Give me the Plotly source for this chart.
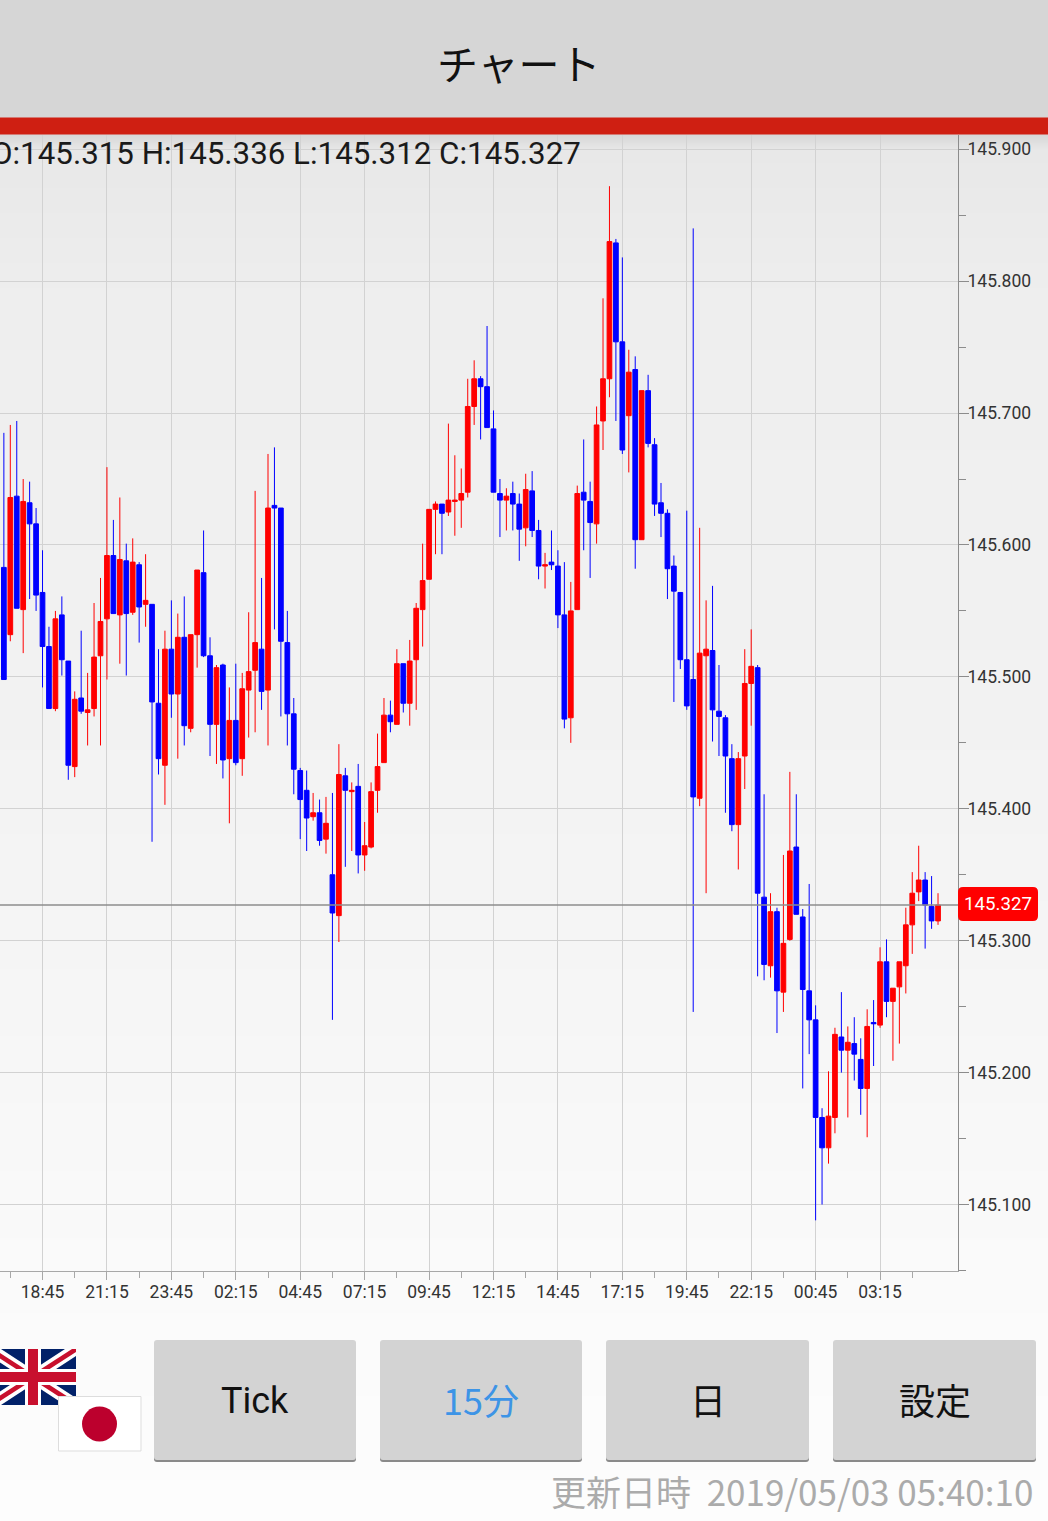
import plotly.graph_objects as go

# 15 minute USD/JPY style bars
open_px = [
145.583,145.532,145.637,145.551,145.632,145.616,145.564,145.523,145.476,145.547,
145.512,145.432,145.484,145.473,145.476,145.516,145.544,145.592,145.547,145.588,
145.549,145.585,145.555,145.555,145.480,145.433,145.521,145.487,145.530,145.461,
145.532,145.579,145.516,145.464,145.509,145.438,145.467,145.438,145.490,145.505,
145.521,145.490,145.630,145.628,145.526,145.472,145.429,145.414,145.394,145.397,
145.377,145.350,145.319,145.425,145.413,145.417,145.365,145.371,145.414,145.435,
145.471,145.464,145.510,145.480,145.513,145.551,145.574,145.627,145.631,145.625,
145.633,145.634,145.640,145.705,145.726,145.720,145.688,145.639,145.634,145.639,
145.631,145.613,145.641,145.611,145.584,145.587,145.584,145.547,145.469,145.551,
145.640,145.633,145.616,145.694,145.726,145.829,145.754,145.698,145.733,145.604,
145.717,145.676,145.632,145.624,145.584,145.564,145.513,145.498,145.408,145.516,
145.520,145.474,145.469,145.438,145.388,145.440,145.495,145.507,145.333,145.281,
145.322,145.261,145.301,145.371,145.318,145.262,145.240,145.166,145.143,145.166,
145.227,145.217,145.222,145.210,145.188,145.238,145.236,145.284,145.254,145.265,
145.281,145.312,145.337,145.346,145.326,145.315]
high_px = [
145.685,145.691,145.694,145.650,145.648,145.628,145.596,145.538,145.550,145.561,
145.512,145.489,145.535,145.503,145.556,145.575,145.659,145.619,145.636,145.601,
145.605,145.587,145.593,145.555,145.521,145.535,145.558,145.548,145.561,145.532,
145.581,145.611,145.530,145.509,145.510,145.492,145.510,145.503,145.549,145.641,
145.575,145.669,145.674,145.628,145.550,145.484,145.431,145.429,145.412,145.407,
145.409,145.412,145.449,145.431,145.420,145.434,145.390,145.420,145.457,145.484,
145.482,145.521,145.510,145.528,145.556,145.601,145.627,145.633,145.631,145.692,
145.668,145.658,145.726,145.740,145.728,145.766,145.702,145.650,145.643,145.648,
145.639,145.654,145.656,145.619,145.594,145.611,145.596,145.587,145.572,145.645,
145.680,145.648,145.705,145.787,145.872,145.832,145.818,145.748,145.743,145.717,
145.729,145.681,145.647,145.627,145.592,145.564,145.626,145.840,145.613,145.558,
145.569,145.509,145.471,145.449,145.443,145.521,145.536,145.509,145.411,145.336,
145.325,145.365,145.428,145.411,145.324,145.343,145.251,145.173,145.201,145.234,
145.261,145.235,145.242,145.226,145.248,145.255,145.295,145.301,145.264,145.284,
145.325,145.352,145.372,145.352,145.349,145.336]
low_px = [
145.498,145.527,145.552,145.518,145.559,145.550,145.492,145.476,145.474,145.501,
145.422,145.424,145.472,145.448,145.470,145.448,145.498,145.548,145.510,145.501,
145.547,145.526,145.538,145.375,145.426,145.403,145.469,145.438,145.448,145.458,
145.507,145.515,145.440,145.434,145.423,145.389,145.433,145.425,145.454,145.458,
145.475,145.448,145.536,145.470,145.448,145.411,145.377,145.368,145.391,145.372,
145.366,145.240,145.299,145.356,145.368,145.351,145.353,145.370,145.397,145.435,
145.458,145.464,145.473,145.463,145.475,145.523,145.574,145.593,145.593,145.622,
145.607,145.613,145.636,145.691,145.680,145.689,145.640,145.606,145.611,145.611,
145.588,145.599,145.606,145.574,145.567,145.581,145.537,145.461,145.450,145.551,
145.596,145.575,145.601,145.672,145.712,145.694,145.669,145.655,145.582,145.604,
145.674,145.622,145.606,145.559,145.481,145.506,145.475,145.246,145.402,145.336,
145.451,145.440,145.397,145.383,145.354,145.415,145.463,145.273,145.270,145.272,
145.230,145.246,145.300,145.320,145.188,145.214,145.088,145.100,145.131,145.154,
145.200,145.166,145.194,145.168,145.151,145.205,145.234,145.242,145.209,145.222,
145.260,145.290,145.330,145.294,145.309,145.312]
close_px = [
145.498,145.636,145.552,145.633,145.616,145.562,145.523,145.476,145.544,145.513,
145.433,145.483,145.474,145.475,145.515,145.542,145.592,145.548,145.589,145.548,
145.587,145.553,145.558,145.481,145.438,145.521,145.487,145.530,145.463,145.532,
145.581,145.516,145.464,145.507,145.437,145.467,145.435,145.491,145.504,145.526,
145.489,145.628,145.628,145.527,145.472,145.430,145.407,145.393,145.397,145.376,
145.389,145.321,145.426,145.414,145.414,145.365,145.372,145.413,145.432,145.471,
145.466,145.510,145.480,145.512,145.552,145.573,145.627,145.631,145.624,145.634,
145.634,145.639,145.705,145.726,145.720,145.689,145.640,145.634,145.637,145.631,
145.612,145.642,145.611,145.584,145.585,145.585,145.547,145.468,145.550,145.639,
145.634,145.617,145.691,145.726,145.830,145.754,145.672,145.731,145.604,145.717,
145.677,145.631,145.624,145.582,145.565,145.513,145.478,145.409,145.518,145.521,
145.475,145.470,145.440,145.388,145.438,145.495,145.508,145.336,145.282,145.322,
145.262,145.298,145.368,145.320,145.263,145.240,145.166,145.143,145.167,145.229,
145.217,145.223,145.214,145.188,145.235,145.237,145.284,145.254,145.264,145.284,
145.312,145.336,145.346,145.327,145.315,145.327]

bar_no = list(range(len(open_px)))
time_ticks = [6, 16, 26, 36, 46, 56, 66, 76, 86, 96, 106, 116, 126, 136]
time_labels = ["18:45", "21:15", "23:45", "02:15", "04:45", "07:15", "09:45",
               "12:15", "14:45", "17:15", "19:45", "22:15", "00:45", "03:15"]
half_ticks = [1, 11, 21, 31, 41, 51, 61, 71, 81, 91, 101, 111, 121, 131, 141]
price_ticks = [145.1, 145.2, 145.3, 145.4, 145.5, 145.6, 145.7, 145.8, 145.9]
price_labels = ["145.100", "145.200", "145.300", "145.400", "145.500",
                "145.600", "145.700", "145.800", "145.900"]
last_price = 145.327

# page background, top to bottom
bg_y = [0, 117, 135, 150, 300, 800, 1271, 1521]
bg_grey = [214, 214, 216, 232, 238, 243, 250, 253]

LATIN = "Roboto, 'Noto Sans CJK JP', sans-serif"
CJK = "'Noto Sans CJK JP', Roboto, sans-serif"
W, H = 1048, 1521
AX_RIGHT, AX_TOP, AX_BOTTOM = 958, 135, 1271

fig = go.Figure()

fig.add_trace(go.Heatmap(x=[0, W], y=bg_y, z=[[g, g] for g in bg_grey],
                         zmin=0, zmax=255, zsmooth="best", showscale=False,
                         colorscale=[[0, "rgb(0,0,0)"], [1, "rgb(255,255,255)"]],
                         hoverinfo="skip", xaxis="x", yaxis="y"))

fig.add_trace(go.Candlestick(x=bar_no, open=open_px, high=high_px, low=low_px, close=close_px,
                             increasing=dict(line=dict(color="#ff0000", width=1), fillcolor="#ff0000"),
                             decreasing=dict(line=dict(color="#0000ff", width=1), fillcolor="#0000ff"),
                             whiskerwidth=0, xaxis="x2", yaxis="y2", showlegend=False))


def rect(x0, y0, x1, y1, fill, line=None):
    fig.add_shape(type="rect", xref="x", yref="y", x0=x0, y0=y0, x1=x1, y1=y1,
                  fillcolor=fill, line=dict(color=line or fill, width=1 if line else 0), layer="above")


def poly(points, fill):
    d = "M" + " L".join(f"{a},{b}" for a, b in points) + " Z"
    fig.add_shape(type="path", xref="x", yref="y", path=d, fillcolor=fill, line_width=0, layer="above")


def rounded(x0, y0, x1, y1, r, fill):
    d = (f"M{x0+r},{y0} L{x1-r},{y0} Q{x1},{y0} {x1},{y0+r} L{x1},{y1-r} Q{x1},{y1} {x1-r},{y1} "
         f"L{x0+r},{y1} Q{x0},{y1} {x0},{y1-r} L{x0},{y0+r} Q{x0},{y0} {x0+r},{y0} Z")
    fig.add_shape(type="path", xref="x", yref="y", path=d, fillcolor=fill, line_width=0, layer="above")


def label(x, y, text, size, color, font=LATIN, anchor="center", xshift=0):
    fig.add_annotation(xref="x", yref="y", x=x, y=y, text=text, showarrow=False, xanchor=anchor,
                       yanchor="middle", xshift=xshift, font=dict(family=font, size=size, color=color))


# title bar
rect(0, 117.5, W, 134.5, "#cf1f12")
label(519, 62, "チャート", 41, "#111111", CJK)

# last price line and tag
fig.add_shape(type="line", xref="x2", yref="y2", x0=-1, x1=148.1, y0=last_price, y1=last_price,
              line=dict(color="#8c8c8c", width=1.5), layer="above")
rounded(958, 887, 1038, 921, 5, "#ff0000")
label(998, 904, f"{last_price:.3f}", 18.7, "#ffffff")

label(0, 153, "O:145.315 H:145.336 L:145.312 C:145.327", 31.3, "#1a1a1a", anchor="left", xshift=-11)

# flags
rect(0, 1349, 76, 1405, "#012169")
for a, b, c, d in [(-10, 1349, 76, 1405), (-10, 1405, 76, 1349)]:
    s = 1 if d > b else -1
    poly([(a, b), (a + 11, b), (c, d - 7 * s), (c, d), (c - 11, d), (a, b + 7 * s)], "#ffffff")
    poly([(a, b), (a + 4, b), (c, d - 3 * s), (c, d), (c - 4, d), (a, b + 3 * s)], "#c8102e")
rect(0, 1369, 76, 1385, "#ffffff")
rect(25, 1349, 41, 1405, "#ffffff")
rect(0, 1372, 76, 1382, "#c8102e")
rect(28, 1349, 38, 1405, "#c8102e")
rect(58.5, 1396.5, 141, 1451, "#ffffff", "#dddddd")
fig.add_shape(type="circle", xref="x", yref="y", x0=82, y0=1406.5, x1=117, y1=1441.5,
              fillcolor="#bc002d", line_width=0, layer="above")

# buttons
btn_left = [154, 380, 606, 833]
btn_right = [356, 582, 809, 1036]
btn_text = ["Tick", "15分", "日", "設定"]
btn_color = ["#111111", "#3d94e6", "#111111", "#111111"]
for x0, x1, t, c in zip(btn_left, btn_right, btn_text, btn_color):
    rounded(x0, 1342, x1, 1462, 3, "#8a8a8a")
    rounded(x0, 1340, x1, 1460, 3, "#d3d3d3")
    label((x0 + x1) / 2, 1401 if t == "Tick" else 1399, t, 36, c, CJK if t != "Tick" else LATIN)

label(1035, 1490, "更新日時  2019/05/03 05:40:10", 35, "#ababab", CJK, anchor="right")

x_low = -0.6
x_high = 148.1
fig.update_layout(
    width=W, height=H, autosize=False, margin=dict(l=0, r=0, t=0, b=0),
    paper_bgcolor="#f4f4f4", plot_bgcolor="rgba(0,0,0,0)", showlegend=False, hovermode=False,
    boxgap=0.27, boxgroupgap=0,
    xaxis=dict(domain=[0, 1], range=[0, W], visible=False, fixedrange=True),
    yaxis=dict(domain=[0, 1], range=[H, 0], visible=False, fixedrange=True),
    xaxis2=dict(domain=[0, AX_RIGHT / W], range=[x_low, x_high], anchor="y2", rangeslider=dict(visible=False),
                tickmode="array", tickvals=time_ticks, ticktext=time_labels,
                ticks="outside", ticklen=8, tickcolor="#a8a8a8", tickwidth=1, ticklabelstandoff=-3,
                showgrid=True, gridcolor="#d2d2d2", gridwidth=1.3, zeroline=False,
                showline=True, linecolor="#a8a8a8", linewidth=1,
                minor=dict(tickmode="array", tickvals=half_ticks, ticks="outside", ticklen=6,
                           tickcolor="#a8a8a8", tickwidth=1, showgrid=False),
                tickfont=dict(family=LATIN, size=17.5, color="#333333")),
    yaxis2=dict(domain=[1 - AX_BOTTOM / H, 1 - AX_TOP / H], range=[145.0496, 145.9108], anchor="x2", side="right",
                tickmode="array", tickvals=price_ticks, ticktext=price_labels,
                ticks="outside", ticklen=10, tickcolor="#8c8c8c", tickwidth=1, ticklabelstandoff=-5,
                showgrid=True, gridcolor="#d2d2d2", gridwidth=1.3, zeroline=False,
                showline=True, linecolor="#8c8c8c", linewidth=1,
                minor=dict(tickmode="array", tickvals=[145.05, 145.15, 145.25, 145.35, 145.45,
                                                       145.55, 145.65, 145.75, 145.85],
                           ticks="outside", ticklen=7, tickcolor="#8c8c8c", tickwidth=1, showgrid=False),
                tickfont=dict(family=LATIN, size=17.5, color="#333333")),
)

# the page body has a default margin, drop it so the figure fills the window
fig.write_html("out.html", config={"displayModeBar": False},
               post_script="document.body.style.margin='0';")
